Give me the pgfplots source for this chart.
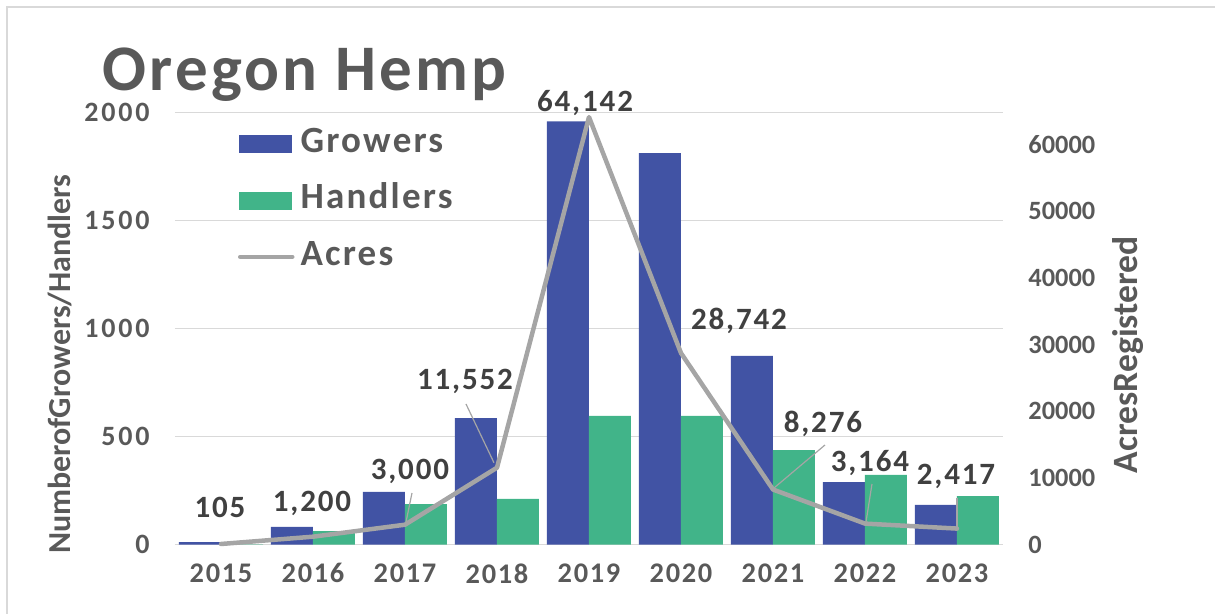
\documentclass[border=0pt]{standalone}
\usepackage{pgfplots}
\pgfplotsset{compat=1.18}
\usepackage{pgfplotstable}
\usepackage{fontspec}
\setmainfont{Carlito}
\newfontfamily\fTitle{Carlito}[LetterSpace=5]
\newfontfamily\fTickL{Carlito}[LetterSpace=10]
\newfontfamily\fTickX{Carlito}[LetterSpace=6]
\newfontfamily\fLab{Carlito}[LetterSpace=6]
\newfontfamily\fLeg{Carlito}[LetterSpace=6]
\definecolor{growersc}{RGB}{65,83,164}
\definecolor{handlersc}{RGB}{65,180,137}
\definecolor{acresc}{RGB}{165,165,165}
\definecolor{txt}{RGB}{89,89,89}
\definecolor{lbl}{RGB}{64,64,64}
\definecolor{gridc}{RGB}{217,217,217}

\pgfplotstableread{
x growers handlers
0 12 2
1 82 63
2 244 188
3 586 212
4 1960 596
5 1813 596
6 874 438
7 290 323
8 184 225
}\counts

\pgfplotstableread{
x acres
0 105
1 1200
2 3000
3 11552
4 64142
5 28742
6 8276
7 3164
8 2417
}\acres

\begin{document}
\begin{tikzpicture}
\path[use as bounding box] (0pt,0pt) rectangle (607.5pt,307pt);
\draw[gridc, line width=0.75pt] (3.5pt,0pt) -- (3.5pt,303.5pt) -- (607.5pt,303.5pt);

\node[anchor=base west, inner sep=0pt, text=txt,
      font=\fTitle\bfseries\fontsize{32.5}{36}\selectfont] at (51pt,261.5pt) {Oregon Hemp};

\begin{axis}[
  at={(87.5pt,34.65pt)}, anchor=south west,
  scale only axis, width=414pt, height=216pt,
  xmin=-0.5, xmax=8.5, ymin=0, ymax=2000,
  axis line style={draw=none},
  major tick length=0pt,
  scaled y ticks=false,
  ytick={0,500,1000,1500,2000},
  yticklabels={0,500,1000,1500,2000},
  xtick={0,1,2,3,4,5,6,7,8},
  xticklabels={2015,2016,2017,2018,2019,2020,2021,2022,2023},
  ymajorgrids, grid style={draw=gridc, line width=0.75pt},
  yticklabel style={inner sep=0pt, anchor=east, xshift=-12.5pt, text=txt,
      font=\fTickL\bfseries\fontsize{14}{16}\selectfont},
  xticklabel style={inner sep=0pt, anchor=north, yshift=-9.15pt, text=txt,
      font=\fTickX\bfseries\fontsize{14.2}{16}\selectfont},
  ylabel={NumberofGrowers/Handlers},
  every axis y label/.style={at={(axis description cs:-0.1389,0.418)}, rotate=90, anchor=center,
      inner sep=0pt, text=txt, font=\bfseries\fontsize{16}{18}\selectfont},
  ybar=0pt, bar width=21pt,
]
\addplot[fill=growersc, draw=none] table[x=x, y=growers] {\counts};
\addplot[fill=handlersc, draw=none] table[x=x, y=handlers] {\counts};
\end{axis}

\begin{axis}[
  at={(87.5pt,34.65pt)}, anchor=south west,
  scale only axis, width=414pt, height=216pt,
  xmin=-0.5, xmax=8.5, ymin=0, ymax=64800,
  clip=false,
  axis line style={draw=none},
  major tick length=0pt,
  scaled y ticks=false,
  xtick=\empty,
  ytick={0,10000,20000,30000,40000,50000,60000},
  yticklabels={0,10000,20000,30000,40000,50000,60000},
  yticklabel pos=right,
  yticklabel style={inner sep=0pt, anchor=west, xshift=12.5pt, text=txt,
      font=\bfseries\fontsize{13.2}{15}\selectfont},
  ylabel={AcresRegistered},
  every axis y label/.style={at={(axis description cs:1.151,0.440)}, rotate=90, anchor=center,
      inner sep=0pt, text=txt, font=\bfseries\fontsize{17.8}{20}\selectfont},
  legend style={at={(axis description cs:0.0761,0.9634)}, anchor=north west,
      draw=none, fill=none, inner sep=0pt, outer sep=0pt, row sep=16pt, column sep=3pt,
      nodes={inner sep=0pt, text height=12pt, text depth=0pt, text=txt,
             font=\fLeg\bfseries\fontsize{18.5}{20}\selectfont}},
  legend cell align=left,
]
\addlegendimage{legend image code/.code={\fill[growersc] (0pt,-6pt) rectangle (26pt,2.5pt);}}
\addlegendentry{Growers}
\addlegendimage{legend image code/.code={\fill[handlersc] (0pt,-6pt) rectangle (26pt,2.5pt);}}
\addlegendentry{Handlers}
\addplot[acresc, line width=2.25pt, line join=round, line cap=round,
  legend image code/.code={\draw[acresc, line width=2.25pt, line cap=round] (0.5pt,-1.75pt) -- (26.5pt,-1.75pt);}]
  table[x=x, y=acres] {\acres};
\addlegendentry{Acres}

% leader lines
\draw[acresc, line width=0.6pt] (axis cs:2.076,7755) -- (axis cs:2.011,3405);
\draw[acresc, line width=0.6pt] (axis cs:2.663,21105) -- (axis cs:2.967,12300);
\draw[acresc, line width=0.6pt] (axis cs:6.565,14955) -- (axis cs:6.011,8505);
\draw[acresc, line width=0.6pt] (axis cs:7.076,9105) -- (axis cs:7.011,3405);
\draw[acresc, line width=0.6pt] (axis cs:8.0,7005) -- (axis cs:8.0,2655);

% data labels
\begin{scope}[every node/.style={anchor=base, inner sep=0pt, text=lbl,
    font=\fLab\bfseries\fontsize{15.5}{17}\selectfont}]
\node at (axis cs:-0.011,4005) {105};
\node at (axis cs:0.989,4905) {1,200};
\node at (axis cs:2.054,9705) {3,000};
\node at (axis cs:2.652,23205) {11,552};
\node at (axis cs:3.957,64950) {64,142};
\node at (axis cs:5.63,32205) {28,742};
\node at (axis cs:6.543,16755) {8,276};
\node at (axis cs:7.054,10905) {3,164};
\node at (axis cs:7.989,8955) {2,417};
\end{scope}
\end{axis}
\end{tikzpicture}
\end{document}
